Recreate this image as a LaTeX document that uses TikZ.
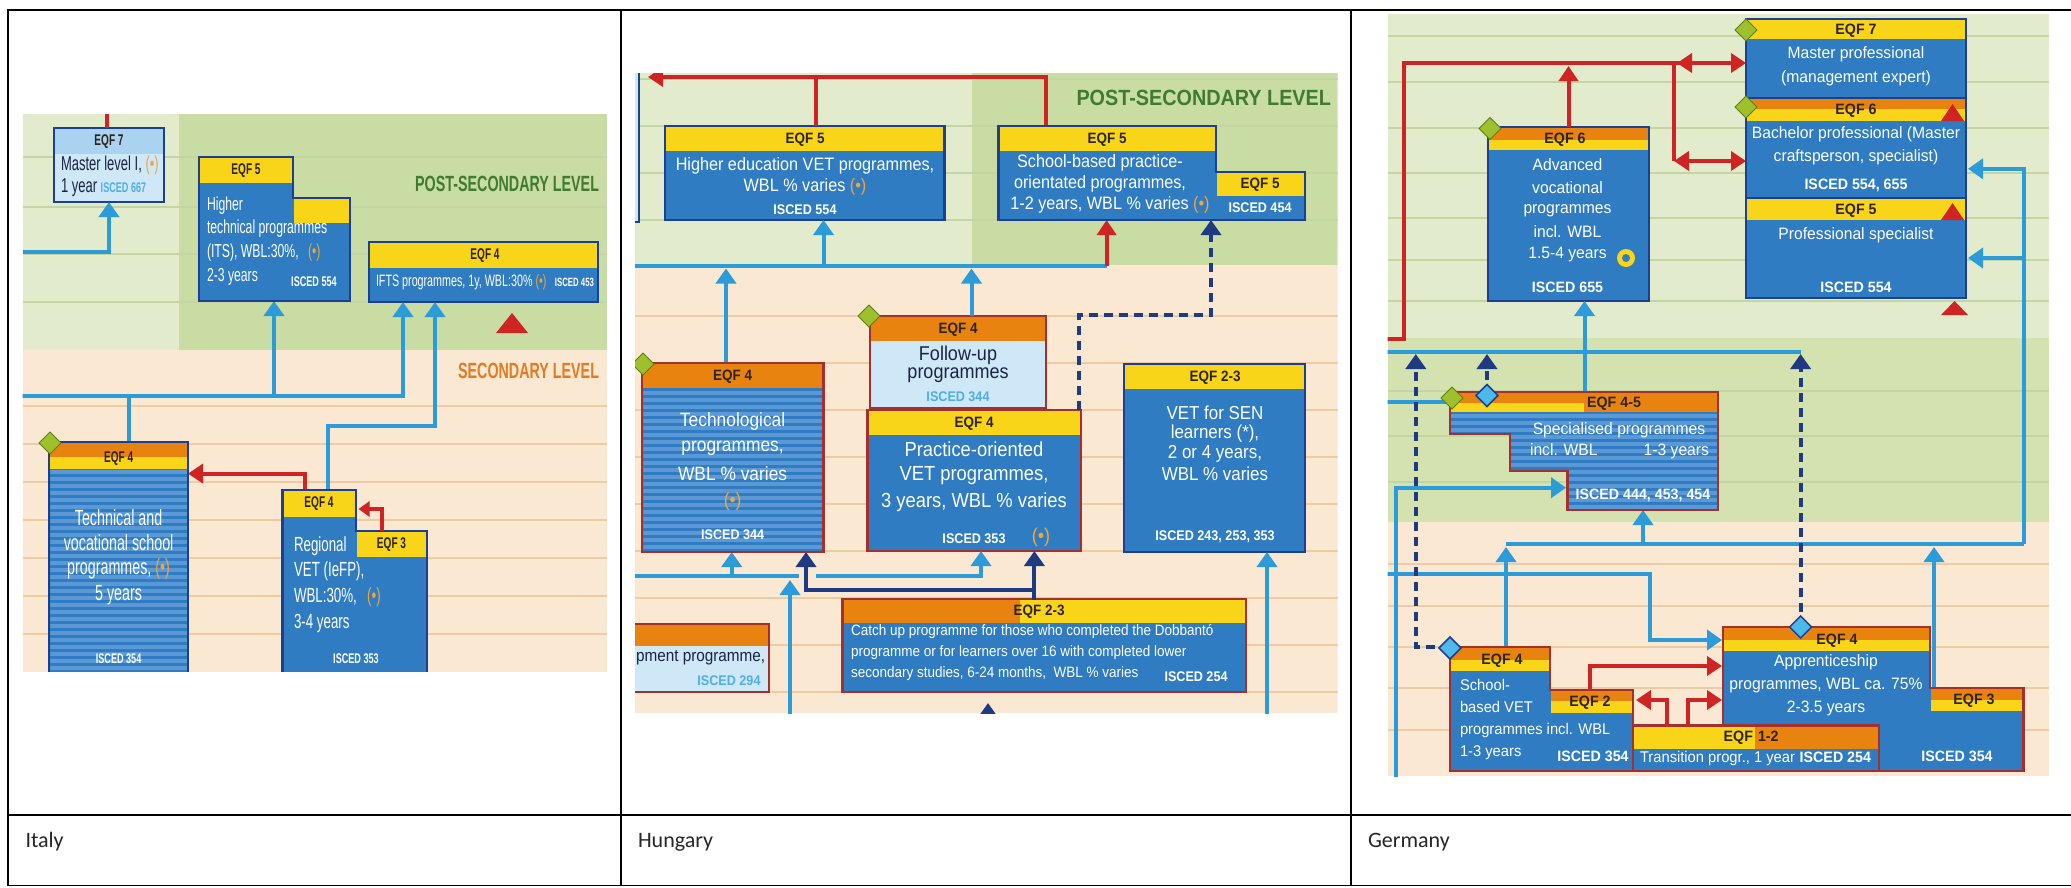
\documentclass[tikz,border=0pt]{standalone}
\usepackage{fontspec}
\setmainfont{Carlito}
\newfontfamily\itf[FakeStretch=0.65]{Liberation Sans}
\newfontfamily\huf[FakeStretch=0.9]{Liberation Sans}
\newfontfamily\gef[FakeStretch=0.95]{Liberation Sans}
\usetikzlibrary{arrows.meta,shapes.geometric}
\definecolor{bgLG}{HTML}{E2EBCB}
\definecolor{bgDG}{HTML}{C8DCA3}
\definecolor{bgMG}{HTML}{D3E2AF}
\definecolor{bgPE}{HTML}{FBE8D3}
\definecolor{lnG}{HTML}{C3D5A3}
\definecolor{lnP}{HTML}{EDCBA5}
\definecolor{boxB}{HTML}{2F7CC2}
\definecolor{strB}{HTML}{5A98D6}
\definecolor{navy}{HTML}{1C3F8F}
\definecolor{dred}{HTML}{A3302C}
\definecolor{yel}{HTML}{F9D51A}
\definecolor{org}{HTML}{E9830F}
\definecolor{lbx}{HTML}{CFE8F8}
\definecolor{lbh}{HTML}{A9D3F0}
\definecolor{cblue}{HTML}{2B9BD9}
\definecolor{cred}{HTML}{D02323}
\definecolor{cnavy}{HTML}{1E3A82}
\definecolor{gdia}{HTML}{9EC02C}
\definecolor{gdiaD}{HTML}{5E7F17}
\definecolor{bdia}{HTML}{4DB9EA}
\definecolor{postG}{HTML}{3F7B30}
\definecolor{secO}{HTML}{E27C22}
\definecolor{dotc}{HTML}{F0A63A}
\definecolor{hdr}{HTML}{2E2418}
\definecolor{iscL}{HTML}{4FAEE6}
\definecolor{dtext}{HTML}{1B2340}
\newcommand\dotmark{\textcolor{dotc}{(•)}}
\begin{document}
\begin{tikzpicture}[x=1pt,y=-1pt,
 every node/.style={inner sep=0pt, outer sep=0pt},
 nb/.style={draw=navy, line width=2.5pt, fill=boxB, anchor=north west},
 rb/.style={draw=dred, line width=2.5pt, fill=boxB, anchor=north west},
 npoly/.style={draw=navy, line width=2.5pt, fill=boxB},
 rpoly/.style={draw=dred, line width=2.5pt, fill=boxB},
 cl/.style={draw=cblue, line width=4pt},
 ca/.style={cl, -{Triangle[width=20pt,length=15pt]}},
 rl/.style={draw=cred, line width=4pt},
 ra/.style={rl, -{Triangle[width=19pt,length=15pt]}},
 nl/.style={draw=cnavy, line width=4pt, dash pattern=on 9pt off 6pt},
 na/.style={nl, -{Triangle[width=20pt,length=15pt]}},
 ns/.style={draw=cnavy, line width=4pt, -{Triangle[width=20pt,length=15pt]}},
 gd/.style={diamond, draw=gdiaD, fill=gdia, line width=1pt, minimum width=22pt, minimum height=22pt},
 bd/.style={diamond, draw=navy, fill=bdia, line width=1.5pt, minimum width=22pt, minimum height=22pt},
 IT/.style={text=white, font=\itf\fontsize{20.5}{22}\selectfont},
 ITS/.style={text=white, font=\itf\fontsize{18.8}{21}\selectfont},
 ITB/.style={text=white, font=\itf\fontsize{22}{24}\selectfont},
 IH/.style={text=hdr, font=\itf\bfseries\fontsize{15.5}{17}\selectfont},
 IS/.style={text=white, font=\itf\bfseries\fontsize{14}{16}\selectfont},
 HT/.style={text=white, font=\huf\fontsize{18}{20}\selectfont},
 HH/.style={text=hdr, font=\huf\bfseries\fontsize{15}{17}\selectfont},
 HS/.style={text=white, font=\huf\bfseries\fontsize{14}{16}\selectfont},
 GT/.style={text=white, font=\gef\fontsize{16.5}{18}\selectfont},
 GH/.style={text=hdr, font=\gef\bfseries\fontsize{15}{17}\selectfont},
 GS/.style={text=white, font=\gef\bfseries\fontsize{15}{17}\selectfont},
 tline/.style={draw=black, line width=1.8pt}
]
\useasboundingbox (0,0) rectangle (2071,887);
\fill[white] (0,0) rectangle (2071,887);

%================ ITALY =================
\begin{scope}
\clip (22.7,114) rectangle (607,671.7);
\fill[bgLG] (22.7,114) rectangle (179,350);
\fill[bgDG] (179,114) rectangle (607,350);
\fill[bgPE] (22.7,350) rectangle (607,671.7);
\foreach \yy in {157,207,254,302} \draw[lnG, line width=1.6pt] (22.7,\yy) -- (607,\yy);
\foreach \yy in {406,444,482,520,558,596,634} \draw[lnP, line width=1.6pt] (22.7,\yy) -- (607,\yy);
\node[anchor=mid east, text=postG, font=\itf\bfseries\fontsize{22}{24}\selectfont] (itPost) at (599,189) {POST-SECONDARY LEVEL};
\node[anchor=mid east, text=secO, font=\itf\bfseries\fontsize{22}{24}\selectfont] (itSec) at (599,376) {SECONDARY LEVEL};
% boxes (nodes)
\node[nb, fill=lbx, minimum width=110pt, minimum height=74pt] (itM) at (54,128) {};
\node[nb, minimum width=229pt, minimum height=60pt] (itIFTS) at (369,242) {};
\node[nb, minimum width=139pt, minimum height=240pt] (itT) at (49,442) {};
\coordinate (itITS) at (274,301);
\coordinate (itRv) at (328,490);
\coordinate (itRr) at (304.5,490);
\coordinate (itR3) at (381.6,531);
% connectors
\coordinate (itRtop) at (107,110);
\draw[rl] (itRtop) -- (itRtop |- itM.north);
\coordinate (itB1) at (22.7,252);
\draw[ca] (itB1) -| (itM.south);
\coordinate (itJ) at (20,396);
\draw[ca] (itJ) -| ([xshift=34pt]itIFTS.south west);
\coordinate (itJ2) at (274,396);
\draw[ca] (itJ2) -- (itITS);
\coordinate (itJ3) at (128.5,396);
\draw[cl] (itJ3) -- (itJ3 |- itT.north);
\draw[ca] (itRv) -- (328,425.6) -| ([xshift=66pt]itIFTS.south west);
% EQF7 box content
\fill[lbh] (55.25,129.25) rectangle (162.75,154);
\node[IH] (itMh) at (109,142) {EQF 7};
\node[anchor=mid west, text=dtext, font=\itf\fontsize{20}{22}\selectfont] (itMt1) at (61,168) {Master level I, \dotmark};
\node[anchor=mid west, text=dtext, font=\itf\fontsize{20}{22}\selectfont] (itMt2) at (61,190) {1 year \textcolor{iscL}{\bfseries\fontsize{14}{16}\selectfont ISCED 667}};
% ITS polygon
\draw[npoly] (199,157) -- (293,157) -- (293,198) -- (350,198) -- (350,301) -- (199,301) -- cycle;
\fill[yel] (200.25,158.25) rectangle (291.75,183);
\fill[yel] (294.25,199.25) rectangle (348.75,223);
\node[IH] (itHh) at (246,171) {EQF 5};
\node[ITS, anchor=mid west] (itHt1) at (207,208) {Higher};
\node[ITS, anchor=mid west] (itHt2) at (207,231) {technical programmes};
\node[ITS, anchor=mid west] (itHt3) at (207,255) {(ITS), WBL:30\%,\enspace\dotmark};
\node[ITS, anchor=mid west] (itHt4) at (207,279) {2-3 years};
\node[IS] (itHs) at (314,282) {ISCED 554};
% IFTS content
\fill[yel] (370.25,243.25) rectangle (596.75,268);
\node[IH] (itFh) at (485,256) {EQF 4};
\node[anchor=mid west, text=white, font=\itf\fontsize{16.5}{18}\selectfont] (itFt) at (376,284) {IFTS programmes, 1y, WBL:30\% \dotmark};
\node[anchor=mid east, text=white, font=\itf\bfseries\fontsize{12}{14}\selectfont] (itFs) at (594,284) {ISCED 453};
\fill[cred] (496,333) -- (528,333) -- (512,313) -- cycle;
% Technical school (striped)
\begin{scope}
\clip (50.25,443.25) rectangle (186.75,680);
\foreach \yy in {470,477,...,680} \fill[strB] (50,\yy) rectangle (187,\yy+3.5);
\end{scope}
\draw[navy, line width=2.5pt] (49,442) rectangle (188,682);
\fill[org] (50.25,443.25) rectangle (186.75,457);
\fill[yel] (50.25,457) rectangle (186.75,469);
\node[IH] (itTh) at (118.6,459) {EQF 4};
\node[ITB] (itTt1) at (118.6,518) {Technical and};
\node[ITB] (itTt2) at (118.6,543) {vocational school};
\node[ITB] (itTt3) at (118.6,569) {programmes, \dotmark};
\node[ITB] (itTt4) at (118.6,595) {5 years};
\node[IS] (itTs) at (118.6,658.6) {ISCED 354};
\node[gd] (itGD) at (50,443) {};
% red arrow to technical school
\coordinate (itRc) at (304.5,473.6);
\draw[ra] (itRr) -- (itRc) -- (itRc -| itT.east);
% Regional VET polygon
\draw[npoly] (282.7,490) -- (356,490) -- (356,531) -- (427,531) -- (427,682) -- (282.7,682) -- cycle;
\fill[yel] (283.95,491.25) rectangle (354.75,516.5);
\fill[yel] (357.25,532.25) rectangle (425.75,557);
\node[IH] (itRh1) at (319,504) {EQF 4};
\node[IH] (itRh2) at (391.5,545) {EQF 3};
\node[IT, anchor=mid west] (itRt1) at (294,549.5) {Regional};
\node[IT, anchor=mid west] (itRt2) at (294,574) {VET (IeFP),};
\node[IT, anchor=mid west] (itRt3) at (294,600) {WBL:30\%,\enspace\dotmark};
\node[IT, anchor=mid west] (itRt4) at (294,626) {3-4 years};
\node[IS] (itRs) at (356,658.6) {ISCED 353};
\coordinate (itR3c) at (381.6,509);
\draw[rl, -{Triangle[width=15pt,length=11pt]}] (itR3) -- (itR3c) -- (358.5,509);
\end{scope}

%================ HUNGARY =================
\begin{scope}
\clip (635,73) rectangle (1337.7,713);
\fill[bgLG] (635,73) rectangle (971.5,265);
\fill[bgDG] (971.5,73) rectangle (1337.7,265);
\fill[bgPE] (635,265) rectangle (1337.7,713);
\foreach \yy in {79,126,173,220} \draw[lnG, line width=1.6pt] (635,\yy) -- (1337.7,\yy);
\foreach \yy in {316,363,410,457,504,551,598,645,692} \draw[lnP, line width=1.6pt] (635,\yy) -- (1337.7,\yy);
\node[draw=navy, line width=2.5pt, fill=lbx, anchor=north west, minimum width=19pt, minimum height=162pt] (hEdge) at (620,60) {};
\node[anchor=mid east, text=postG, font=\huf\bfseries\fontsize{22}{24}\selectfont] (hPost) at (1331,103) {POST-SECONDARY LEVEL};
% box nodes
\node[nb, minimum width=279.5pt, minimum height=94pt] (hHE) at (665,126) {};
\node[rb, minimum width=181.5pt, minimum height=189pt] (hTech) at (642,363) {};
\node[rb, fill=lbx, minimum width=176pt, minimum height=92pt] (hFU) at (870,316) {};
\node[rb, minimum width=213.3pt, minimum height=141pt] (hPO) at (867.7,410) {};
\node[nb, minimum width=181pt, minimum height=188pt] (hSEN) at (1124,364) {};
\node[rb, minimum width=403.5pt, minimum height=93pt] (hCU) at (842.5,599) {};
\node[rb, fill=lbx, minimum width=150pt, minimum height=68pt] (hDev) at (619,624) {};
\coordinate (hSBtop) at (1046,126);
\coordinate (hSBbot) at (1106.6,220);
\coordinate (hSBbot2) at (1211,220);
% red connectors
\draw[ra] (hSBtop) -- (1046,77) -- (648,77);
\coordinate (hHEr) at (815.5,77);
\draw[rl] (hHEr) -- (hHEr |- hHE.north);
% blue line post-secondary
\coordinate (hBl) at (635,266);
\coordinate (hBe) at (1106.6,266);
\draw[cl] (hBl) -- (hBe);
\draw[ra] (hBe) -- (hSBbot);
\coordinate (hHEb) at (823.5,266);
\draw[ca] (hHEb) -- (hHEb |- hHE.south);
\coordinate (hTu) at (726,363);
\draw[ca] (hTu) -- (726,268.5);
\coordinate (hFUu) at (971.5,316);
\draw[ca] (hFUu) -- (971.5,268.5);
\coordinate (hPOd) at (1078.6,410);
\draw[na] (hPOd) -- (1078.6,315) -- (1211,315) -- (hSBbot2);
% bottom connectors
\coordinate (hL1) at (630,576);
\draw[cl] (hL1) -- (799,576);
\coordinate (hL2) at (731.7,576);
\draw[ca] (hL2) -- (hL2 |- hTech.south);
\coordinate (hL3) at (815.5,576);
\draw[ca] (hL3) -| ([xshift=113.3pt]hPO.south west);
\coordinate (hL4) at (790,720);
\draw[ca] (hL4) -- (790,580);
\coordinate (hN1) at (1034.4,600);
\draw[ns] (hN1) -- (hN1 |- hPO.south);
\coordinate (hN2) at (1034.4,590);
\draw[ns] (hN2) -| ([xshift=164pt]hTech.south west);
\coordinate (hSENb) at (1267,720);
\draw[ca] (hSENb) -- (hSENb |- hSEN.south);
\coordinate (hCUb) at (988,730);
\draw[ns] (hCUb) -- (988,703);
% Higher education box
\fill[yel] (666.25,127.25) rectangle (943.25,151);
\node[HH] (hHEh) at (805,140) {EQF 5};
\node[HT] (hHEt1) at (805,166) {Higher education VET programmes,};
\node[HT] (hHEt2) at (805,187) {WBL \% varies \dotmark};
\node[HS] (hHEs) at (805,209.5) {ISCED 554};
% School-based polygon
\draw[npoly] (998.5,126) -- (1216,126) -- (1216,172) -- (1305,172) -- (1305,220) -- (998.5,220) -- cycle;
\fill[yel] (999.75,127.25) rectangle (1214.75,151);
\fill[yel] (1217.25,173.25) rectangle (1303.75,196);
\node[HH] (hSBh) at (1107,140) {EQF 5};
\node[HH] (hSBh2) at (1260,185) {EQF 5};
\node[HS] (hSBs) at (1260,208) {ISCED 454};
\node[HT] (hSBt1) at (1100,162.5) {School-based practice-};
\node[HT] (hSBt2) at (1100,184) {orientated programmes,};
\node[HT] (hSBt3) at (1110,205) {1-2 years, WBL \% varies \dotmark};
% Technological (striped)
\begin{scope}
\clip (643.25,364.25) rectangle (822.25,550.75);
\foreach \yy in {391,398,...,550} \fill[strB] (643,\yy) rectangle (823,\yy+3.5);
\end{scope}
\draw[dred, line width=2.5pt] (642,363) rectangle (823.5,552);
\fill[org] (643.25,364.25) rectangle (822.25,388);
\node[HH] (hTh) at (732.6,377) {EQF 4};
\node[HT, font=\huf\fontsize{19.3}{21}\selectfont] (hTt1) at (732.6,421) {Technological};
\node[HT, font=\huf\fontsize{19.3}{21}\selectfont] (hTt2) at (732.6,448) {programmes,};
\node[HT, font=\huf\fontsize{19.3}{21}\selectfont] (hTt3) at (732.6,473.6) {WBL \% varies};
\node[HT, font=\huf\fontsize{19.3}{21}\selectfont] (hTt4) at (732.6,501) {\dotmark};
\node[HS] (hTs) at (732.6,535) {ISCED 344};
\node[gd] (hGD1) at (643,364) {};
% Follow-up
\fill[org] (871.25,317.25) rectangle (1044.75,341);
\node[HH] (hFUh) at (958,330) {EQF 4};
\node[text=dtext, font=\huf\fontsize{20}{22}\selectfont] (hFUt1) at (958,355) {Follow-up};
\node[text=dtext, font=\huf\fontsize{20}{22}\selectfont] (hFUt2) at (958,375) {programmes};
\node[text=iscL, font=\huf\bfseries\fontsize{14}{16}\selectfont] (hFUs) at (958,396.7) {ISCED 344};
\node[gd] (hGD2) at (869,316) {};
% Practice-oriented
\fill[yel] (868.95,411.25) rectangle (1079.75,435);
\node[HH] (hPOh) at (974,424) {EQF 4};
\node[HT, font=\huf\fontsize{20.4}{22}\selectfont] (hPOt1) at (974,449) {Practice-oriented};
\node[HT, font=\huf\fontsize{20.4}{22}\selectfont] (hPOt2) at (974,476) {VET programmes,};
\node[HT, font=\huf\fontsize{20.4}{22}\selectfont] (hPOt3) at (974,502) {3 years, WBL \% varies};
\node[HS] (hPOs) at (974,538.6) {ISCED 353};
\node[HT, font=\huf\fontsize{20}{22}\selectfont] (hPOd2) at (1041,537) {\dotmark};
% SEN
\fill[yel] (1125.25,365.25) rectangle (1303.75,389);
\node[HH] (hSENh) at (1215,378) {EQF 2-3};
\node[HT, font=\huf\fontsize{18.8}{20}\selectfont] (hSENt1) at (1215,412.5) {VET for SEN};
\node[HT, font=\huf\fontsize{18.8}{20}\selectfont] (hSENt2) at (1215,434) {learners (*),};
\node[HT, font=\huf\fontsize{18.8}{20}\selectfont] (hSENt3) at (1215,454) {2 or 4 years,};
\node[HT, font=\huf\fontsize{18.8}{20}\selectfont] (hSENt4) at (1215,473.6) {WBL \% varies};
\node[HS] (hSENs) at (1215,536.5) {ISCED 243, 253, 353};
% Catch-up
\fill[org] (843.75,600.25) rectangle (1020,623);
\fill[yel] (1020,600.25) rectangle (1244.75,623);
\node[HH] (hCUh) at (1039,612) {EQF 2-3};
\node[anchor=mid west, text=white, font=\huf\fontsize{15}{17}\selectfont] (hCUt1) at (851,633) {Catch up programme for those who completed the Dobbantó};
\node[anchor=mid west, text=white, font=\huf\fontsize{15}{17}\selectfont] (hCUt2) at (851,654) {programme or for learners over 16 with completed lower};
\node[anchor=mid west, text=white, font=\huf\fontsize{15}{17}\selectfont] (hCUt3) at (851,675) {secondary studies, 6-24 months,\enspace WBL \% varies};
\node[HS] (hCUs) at (1196,677) {ISCED 254};
% partial box
\fill[org] (620.25,625.25) rectangle (767.75,646);
\node[anchor=mid west, text=dtext, font=\huf\fontsize{17}{19}\selectfont] (hDevt) at (636,659) {pment programme,};
\node[text=iscL, font=\huf\bfseries\fontsize{14}{16}\selectfont] (hDevs) at (729,681) {ISCED 294};
\end{scope}

%================ GERMANY =================
\begin{scope}
\clip (1387.7,14) rectangle (2049,776);
\fill[bgLG] (1387.7,14) rectangle (2049,338);
\fill[bgMG] (1387.7,338) rectangle (2049,522);
\fill[bgPE] (1387.7,522) rectangle (2049,776);
\foreach \yy in {36,82,128,173,218,260,301} \draw[lnG, line width=1.6pt] (1387.7,\yy) -- (2049,\yy);
\foreach \yy in {391,436,482} \draw[lnG, line width=1.6pt] (1387.7,\yy) -- (2049,\yy);
\foreach \yy in {564,606,647,688,730} \draw[lnP, line width=1.6pt] (1387.7,\yy) -- (2049,\yy);
% box nodes
\node[nb, minimum width=220pt, minimum height=79pt] (gE7) at (1746,19) {};
\node[nb, minimum width=220pt, minimum height=100pt] (gE6) at (1746,98) {};
\node[nb, minimum width=220pt, minimum height=100pt] (gE5) at (1746,198) {};
\node[nb, minimum width=161pt, minimum height=174pt] (gAV) at (1488,127) {};
\coordinate (gSPb) at (1643,510);
\coordinate (gSPt) at (1584.5,392);
\coordinate (gSPl) at (1566,487.7);
\coordinate (gSBt) at (1506,647);
\coordinate (gAPt) at (1934,688);
\coordinate (gAPl) at (1722,640);
% red connectors
\coordinate (gR0) at (1385,338.6);
\coordinate (gRc) at (1404,63);
\draw[ra] (gR0) -- (1404,338.6) -- (gRc) -- (gRc -| gE7.west);
\draw[rl, {Triangle[width=19pt,length=15pt]}-] (1677,63) -- (1697,63);
\coordinate (gRv) at (1674,63);
\coordinate (gRv2) at (1674,161);
\draw[rl] (gRv) -- (gRv2);
\draw[rl, {Triangle[width=19pt,length=15pt]}-{Triangle[width=19pt,length=15pt]}] (gRv2) -- (gRv2 -| gE6.west);
\draw[ra] (gAV.north) -- (1568.5,66);
% blue connectors
\coordinate (gBr) at (2023.6,544);
\draw[ca] (gBr) -- (2023.6,168.8) -- (1968,168.8);
\coordinate (gBr2) at (2023.6,258);
\draw[ca] (gBr2) -- (1968,258);
\coordinate (gBl) at (1506,544);
\draw[cl] (gBl) -- (gBr);
\coordinate (gB3) at (1643,544);
\draw[ca] (gB3) -- (gSPb);
\draw[ca] (gSBt) -- (1506,547);
\draw[ca] (gAPt) -- (1934,547);
\coordinate (gH1) at (1385,351.6);
\draw[cl] (gH1) -- (1800.6,351.6);
\draw[ca] (gSPt) -- (gSPt |- gAV.south);
\coordinate (gH2) at (1385,401.5);
\draw[cl] (gH2) -- (1451,401.5);
\coordinate (gV1) at (1396,780);
\draw[ca] (gV1) |- (gSPl);
\coordinate (gH3) at (1385,574.3);
\draw[ca] (gH3) -- (1649.8,574.3) |- (gAPl);
% navy dashed
\coordinate (gSBd) at (1450,647);
\draw[na] (gSBd) -- (1415.8,647) -- (1415.8,354);
\coordinate (gSPd) at (1487,395);
\draw[na] (gSPd) -- (1487,354);
\coordinate (gAPd) at (1800.6,627);
\draw[na] (gAPd) -- (1800.6,354);
% EQF7
\fill[yel] (1747.25,20.25) rectangle (1964.75,39);
\node[GH] (gE7h) at (1856,30.5) {EQF 7};
\node[GT] (gE7t1) at (1856,54) {Master professional};
\node[GT] (gE7t2) at (1856,78) {(management expert)};
\node[gd] (gGD1) at (1746,30) {};
% EQF6
\fill[org] (1747.25,99.25) rectangle (1964.75,109);
\fill[yel] (1747.25,109) rectangle (1964.75,121);
\fill[cred] (1941,121) -- (1964,121) -- (1952.5,104) -- cycle;
\node[GH] (gE6h) at (1856,111) {EQF 6};
\node[GT] (gE6t1) at (1856,134.5) {Bachelor professional (Master};
\node[GT] (gE6t2) at (1856,157.7) {craftsperson, specialist)};
\node[GS] (gE6s) at (1856,185.4) {ISCED 554, 655};
\node[gd] (gGD2) at (1746,107) {};
% EQF5
\fill[yel] (1747.25,199.25) rectangle (1964.75,220);
\fill[cred] (1941,220) -- (1964,220) -- (1952.5,203) -- cycle;
\node[GH] (gE5h) at (1856,211) {EQF 5};
\node[GT] (gE5t) at (1856,235) {Professional specialist};
\node[GS] (gE5s) at (1856,287) {ISCED 554};
\fill[cred] (1941,315) -- (1968,315) -- (1954.5,301) -- cycle;
% Advanced vocational
\fill[org] (1489.25,128.25) rectangle (1647.75,140);
\fill[yel] (1489.25,140) rectangle (1647.75,150);
\node[GH] (gAVh) at (1565,140) {EQF 6};
\node[GT] (gAVt1) at (1567.5,164.7) {Advanced};
\node[GT] (gAVt2) at (1567.5,188) {vocational};
\node[GT] (gAVt3) at (1567.5,210.6) {programmes};
\node[GT] (gAVt4) at (1567.5,231.7) {incl. WBL};
\node[GT] (gAVt5) at (1567.5,254.4) {1.5-4 years};
\fill[yel] (1626,258) circle (9);
\fill[boxB] (1626,258) circle (4);
\node[GS] (gAVs) at (1567.5,287) {ISCED 655};
\node[gd] (gGD3) at (1490,128.5) {};
% Specialised (stepped, striped)
\fill[boxB] (1450,392) -- (1718,392) -- (1718,510) -- (1567.5,510) -- (1567.5,471) -- (1510,471) -- (1510,434) -- (1450,434) -- cycle;
\begin{scope}
\clip (1450,392) -- (1718,392) -- (1718,510) -- (1567.5,510) -- (1567.5,471) -- (1510,471) -- (1510,434) -- (1450,434) -- cycle;
\foreach \yy in {414,421,...,510} \fill[strB] (1450,\yy) rectangle (1718,\yy+3.5);
\end{scope}
\draw[dred, line width=2.5pt] (1450,392) -- (1718,392) -- (1718,510) -- (1567.5,510) -- (1567.5,471) -- (1510,471) -- (1510,434) -- (1450,434) -- cycle;
\fill[org] (1451.25,393.25) rectangle (1716.75,412);
\fill[yel] (1451.25,403) rectangle (1584,412);
\node[GH] (gSPh) at (1614,403.5) {EQF 4-5};
\node[GT] (gSPt1) at (1619,430.7) {Specialised programmes};
\node[GT, anchor=mid west] (gSPt2) at (1530,453.4) {incl. WBL};
\node[GT, anchor=mid east] (gSPt3) at (1709,453.4) {1-3 years};
\node[GS] (gSPs) at (1643,495) {ISCED 444, 453, 454};
\node[gd] (gGD4) at (1452,398) {};
\node[bd] (gBD1) at (1487,395.5) {};
% School-based VET
\draw[rpoly] (1450,647) -- (1550,647) -- (1550,690) -- (1632.8,690) -- (1632.8,771) -- (1450,771) -- cycle;
\fill[org] (1451.25,648.25) rectangle (1548.75,660);
\fill[yel] (1451.25,660) rectangle (1548.75,670.5);
\node[GH] (gSBh) at (1502,661) {EQF 4};
\fill[org] (1551.25,691.25) rectangle (1631.55,701);
\fill[yel] (1551.25,701) rectangle (1631.55,713);
\node[GH] (gSBh2) at (1590,703) {EQF 2};
\node[GT, anchor=mid west, font=\gef\fontsize{15.5}{17}\selectfont] (gSBt1) at (1460,687.7) {School-};
\node[GT, anchor=mid west, font=\gef\fontsize{15.5}{17}\selectfont] (gSBt2) at (1460,710) {based VET};
\node[GT, anchor=mid west, font=\gef\fontsize{15.5}{17}\selectfont] (gSBt3) at (1460,732) {programmes incl. WBL};
\node[GT, anchor=mid west, font=\gef\fontsize{15.5}{17}\selectfont] (gSBt4) at (1460,754) {1-3 years};
\node[GS] (gSBs) at (1593,756) {ISCED 354};
\node[bd] (gBD2) at (1450,648) {};
% Apprenticeship
\draw[rpoly] (1723,627) -- (1930,627) -- (1930,688) -- (2023.6,688) -- (2023.6,771) -- (1723,771) -- cycle;
\fill[org] (1724.25,628.25) rectangle (1928.75,640);
\fill[yel] (1724.25,640) rectangle (1928.75,651);
\node[GH] (gAPh) at (1837,641) {EQF 4};
\fill[org] (1931.25,689.25) rectangle (2022.35,700);
\fill[yel] (1931.25,700) rectangle (2022.35,711);
\node[GH] (gAPh2) at (1974,701) {EQF 3};
\node[GT] (gAPt1) at (1826,662.5) {Apprenticeship};
\node[GT] (gAPt2) at (1826,685) {programmes, WBL ca. 75\%};
\node[GT] (gAPt3) at (1826,708) {2-3.5 years};
\node[GS] (gAPs) at (1957,756) {ISCED 354};
\node[bd] (gBD3) at (1800.6,627) {};
% Transition
\node[rb, minimum width=246pt, minimum height=45.5pt] (gTR) at (1632.8,725.5) {};
\fill[yel] (1634.05,726.75) rectangle (1755,749);
\fill[org] (1755,726.75) rectangle (1877.55,749);
\node[GH, anchor=mid east] (gTRh1) at (1753,739) {EQF};
\node[GH, anchor=mid west] (gTRh2) at (1758,739) {1-2};
\node[GT, anchor=mid west, font=\gef\fontsize{15.5}{17}\selectfont] (gTRt) at (1640,760) {Transition progr., 1 year};
\node[GS, anchor=mid east] (gTRs) at (1871,760) {ISCED 254};
% red arrows between lower boxes
\coordinate (gT1) at (1667,725.5);
\draw[ra] (gT1) -- (1667,700) -- (1636,700);
\coordinate (gT2) at (1688,725.5);
\draw[ra] (gT2) -- (1688,700) -- (gAPl |- 0,700);
\coordinate (gT3) at (1590,690);
\draw[ra] (gT3) -- (1590,666) -- (1722,666);
\end{scope}

%================ TABLE =================
\draw[tline] (7.4,10) -- (2071,10);
\draw[tline] (8.3,10) -- (8.3,885.5);
\draw[tline] (621,10) -- (621,885.5);
\draw[tline] (1351,10) -- (1351,885.5);
\draw[draw=black, line width=2.6pt] (8.3,815) -- (2071,815);
\draw[tline] (7.4,885.5) -- (2071,885.5);
\node[anchor=mid west, text=black!85, font=\fontsize{22}{26}\selectfont] (lbIt) at (25.5,845) {Italy};
\node[anchor=mid west, text=black!85, font=\fontsize{22}{26}\selectfont] (lbHu) at (638,845) {Hungary};
\node[anchor=mid west, text=black!85, font=\fontsize{22}{26}\selectfont] (lbDe) at (1368,845) {Germany};
\end{tikzpicture}
\end{document}
